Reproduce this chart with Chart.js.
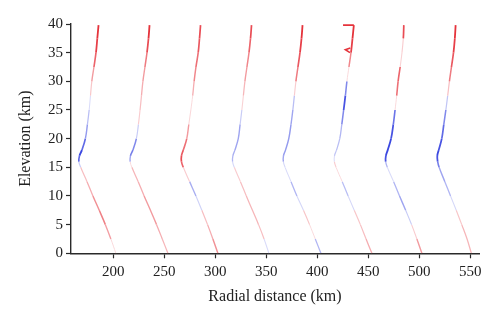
<!DOCTYPE html>
<html>
<head>
<meta charset="utf-8">
<script src="https://cdn.jsdelivr.net/npm/chart.js@4.4.1/dist/chart.umd.min.js"></script>
<style>
html,body{margin:0;padding:0;background:#fff}
canvas{display:block}
</style>
</head>
<body>
<canvas id="profiles" width="500" height="323"></canvas>
<script>
// elevation levels (km) shared by every profile
const elevation=[0,2.5,5,7.5,10,12.5,15,16,17,18,20,22.5,25,27.5,30,32.5,35,37.5,39.8];

// radial distance (km) of each profile at those levels
const dist1=[202.5,197.6,192.2,186.2,180.0,174.2,168.0,166.2,166.8,169.2,172.6,174.6,176.3,177.6,178.9,181.0,183.0,184.3,185.5];
const dist2=[253.5,248.0,242.4,236.4,230.2,224.4,218.2,216.5,216.8,219.2,222.6,224.6,226.2,227.6,229.0,231.0,233.0,234.5,235.5];
const dist3=[302.5,297.6,292.4,286.8,281.0,274.8,268.6,266.8,266.8,268.6,272.0,274.0,276.0,277.8,279.2,281.0,283.2,284.5,285.5];
const dist4=[352.5,347.8,342.4,336.4,330.4,324.6,318.6,316.9,317.2,319.2,322.5,324.3,326.0,327.5,329.0,331.0,333.0,334.5,335.5];
const dist5=[403.5,398.0,392.4,386.4,380.0,374.2,368.4,366.7,366.8,368.8,372.0,374.2,376.0,377.5,379.0,381.0,383.0,384.5,385.5];
const dist6=[453.5,447.8,442.2,436.2,430.2,424.4,418.4,416.7,416.8,418.8,422.0,424.0,425.8,427.5,429.0,431.0,433.0,434.5,435.8];
const dist7=[502.5,497.6,492.4,486.6,480.6,474.8,468.6,467.0,467.2,469.0,472.3,474.5,476.2,477.8,479.2,481.2,483.0,484.3,484.8];
const dist8=[551.0,546.8,541.6,536.2,530.6,525.0,519.4,518.0,517.6,519.0,522.0,524.0,526.0,527.8,529.5,531.5,533.5,534.8,535.6];

// signed anomaly along each profile: + red, - blue
const anom1=[-0.3,0.3,0.55,0.6,0.4,0.3,0.2,-0.6,-0.9,-0.9,-0.6,-0.4,-0.2,0.1,0.3,0.6,0.8,0.9,0.9];
const anom2=[0.3,0.3,0.4,0.5,0.4,0.3,0.3,-0.3,-0.6,-0.7,-0.5,0.1,0.2,0.3,0.4,0.5,0.7,0.9,0.9];
const anom3=[0.6,0.4,0.3,0.2,-0.5,-0.3,0.6,0.8,0.8,0.7,0.6,0.3,-0.2,0.2,0.5,0.6,0.7,0.8,0.8];
const anom4=[-0.3,0.2,0.3,0.3,0.3,0.2,0.1,-0.3,-0.4,-0.4,-0.5,-0.4,0.0,0.2,0.4,0.5,0.6,0.8,0.8];
const anom5=[-0.5,-0.2,0.2,0.2,-0.4,-0.3,0.2,-0.4,-0.5,-0.5,-0.5,-0.5,-0.4,-0.2,0.5,0.7,0.8,0.9,0.9];
const anom6=[0.4,0.3,0.2,0.2,-0.4,-0.2,0.2,0.1,-0.2,-0.3,-0.3,-0.4,-0.8,-0.9,-0.3,0.3,0.8,0.9,0.9];
const anom7=[0.6,0.3,0.0,-0.4,-0.5,-0.2,0.1,-0.8,-0.9,-0.9,-0.9,-0.8,-0.6,0.6,0.7,0.7,-0.5,0.8,0.8];
const anom8=[0.3,0.3,0.3,0.1,-0.3,-0.4,-0.5,-0.8,-0.9,-0.9,-0.8,-0.7,-0.5,0.0,0.5,0.7,0.8,0.9,0.9];

// small spurs near the top of the sixth profile
const spurX=[435.8,425.2,null,432.3,427.5,432.0];
const spurY=[39.8,39.8,null,35.8,35.5,35.0];

const xTicks=[200,250,300,350,400,450,500,550];
const yTicks=[0,5,10,15,20,25,30,35,40];

const dists=[dist1,dist2,dist3,dist4,dist5,dist6,dist7,dist8];
const anoms=[anom1,anom2,anom3,anom4,anom5,anom6,anom7,anom8];

function tint(v){
  const a=Math.min(1,Math.abs(v));
  const m=0.16+0.84*Math.pow(a,1.4);
  const base=v>=0?[226,24,34]:[34,48,220];
  const c=base.map(b=>Math.round(255+(b-255)*m));
  return `rgb(${c[0]},${c[1]},${c[2]})`;
}

const mid=(k,ctx)=>(anoms[k][ctx.p0DataIndex]+anoms[k][ctx.p1DataIndex])/2;

const datasets=dists.map((d,k)=>({
  data:elevation.map((y,i)=>({x:d[i],y})),
  borderWidth:1.3,
  tension:0.4,
  pointRadius:0,
  segment:{
    borderColor:ctx=>tint(mid(k,ctx)),
    borderWidth:ctx=>1.0+0.9*Math.abs(mid(k,ctx))
  }
}));
datasets.push({
  data:spurX.map((x,i)=>({x,y:spurY[i]})),
  borderColor:tint(0.9),
  borderWidth:1.6,
  tension:0,
  pointRadius:0,
  spanGaps:false
});

const axisColor='#2a2a2a';
const serif='"Liberation Serif", "DejaVu Serif", serif';

new Chart(document.getElementById('profiles'),{
  type:'scatter',
  data:{datasets:datasets.map(ds=>({...ds,showLine:true}))},
  options:{
    responsive:false,
    animation:false,
    events:[],
    layout:{padding:{top:24,right:21,bottom:0,left:0}},
    plugins:{legend:{display:false},tooltip:{enabled:false}},
    scales:{
      x:{
        type:'linear',min:158.5,max:558.5,
        afterBuildTicks:s=>{s.ticks=xTicks.map(value=>({value}));},
        afterFit:s=>{s.height=69.7;},
        grid:{display:true,drawOnChartArea:false,tickLength:5,tickColor:axisColor,tickWidth:1.2},
        border:{display:true,color:axisColor,width:1.4},
        ticks:{color:'#222',font:{family:serif,size:15},padding:5,maxRotation:0},
        title:{display:true,text:'Radial distance (km)',color:'#222',font:{family:serif,size:16},padding:{top:0,bottom:16.4}}
      },
      y:{
        type:'linear',min:0,max:40,
        afterBuildTicks:s=>{s.ticks=yTicks.map(value=>({value}));},
        afterFit:s=>{s.width=71;},
        grid:{display:true,drawOnChartArea:false,tickLength:5,tickColor:axisColor,tickWidth:1.2},
        border:{display:true,color:axisColor,width:1.4},
        ticks:{color:'#222',font:{family:serif,size:15},padding:3},
        title:{display:true,text:'Elevation (km)',color:'#222',font:{family:serif,size:16},padding:{top:16.4,bottom:0}}
      }
    }
  }
});
</script>
</body>
</html>
